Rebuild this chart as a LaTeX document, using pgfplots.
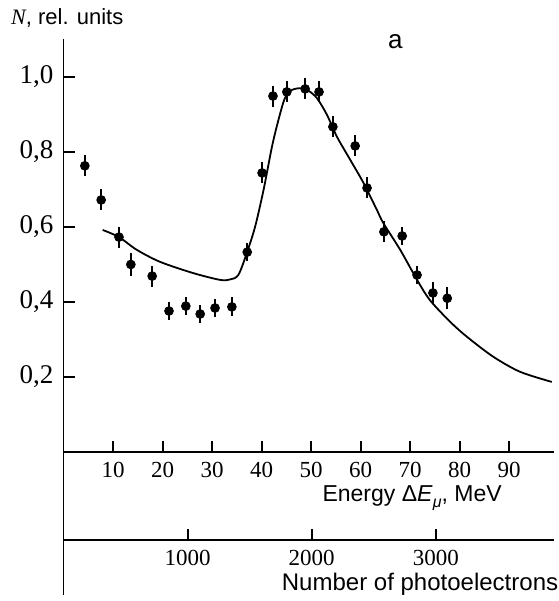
\documentclass[border=0pt]{standalone}
\usepackage{fontspec}
\setmainfont{Liberation Serif}
\newfontfamily\labelfont{Liberation Sans}
\usepackage{pgfplots}
\usepackage{pgfplotstable}
\pgfplotsset{compat=1.18}

% measured points with error bars
\pgfplotstableread{
x     y      e
4.3   0.763  0.028
7.6   0.672  0.028
11.2  0.573  0.028
13.6  0.500  0.030
17.9  0.469  0.028
21.3  0.376  0.025
24.7  0.389  0.025
27.6  0.368  0.025
30.6  0.384  0.025
34.0  0.387  0.025
37.1  0.533  0.025
40.1  0.744  0.028
42.3  0.949  0.028
45.1  0.960  0.028
48.8  0.968  0.028
51.6  0.960  0.028
54.4  0.867  0.028
58.9  0.816  0.028
61.3  0.704  0.028
64.7  0.587  0.028
68.4  0.576  0.025
71.4  0.472  0.025
74.6  0.424  0.028
77.5  0.410  0.030
}\points

% calculated curve
\pgfplotstableread{
x     y
7.9   0.592
11.2  0.573
14.8  0.539
19.5  0.507
26.2  0.477
31.6  0.459
33.6  0.460
35.3  0.472
37.0  0.530
38.7  0.601
40.4  0.699
42.1  0.814
43.4  0.885
44.7  0.943
46.1  0.965
48.1  0.970
49.5  0.963
51.2  0.943
53.2  0.899
55.2  0.841
57.9  0.779
60.6  0.717
63.3  0.645
64.6  0.610
68.0  0.539
71.4  0.459
74.0  0.405
78.1  0.347
81.5  0.307
86.8  0.254
92.2  0.214
98.6  0.187
}\curve

\begin{document}
\begin{tikzpicture}
\begin{axis}[
    name=main,
    scale only axis,
    width=245pt, height=277.5pt,
    xmin=0, xmax=99, ymin=-0.38, ymax=1.1,
    axis x line=middle, axis y line=left,
    axis line style={-, line width=0.9pt},
    xtick={10,20,...,90},
    ytick={0.2,0.4,0.6,0.8,1.0},
    xtick align=inside, ytick align=inside,
    major tick length=5.5pt,
    tick style={black, line width=1pt},
    /pgf/number format/assume math mode=true,
    yticklabel style={font=\fontsize{13.5}{15}\selectfont, xshift=-1.5pt,
        /pgf/number format/.cd, fixed, fixed zerofill, precision=1, use comma},
    xticklabel style={font=\fontsize{11.5}{13}\selectfont},
    xticklabel shift=1.5pt,
    clip=false,
]
\addplot[black, line width=0.9pt, smooth] table {\curve};
\addplot[only marks, mark=*, mark size=2.2pt, black,
    error bars/.cd, y dir=both, y explicit, error mark=none,
    error bar style={line width=0.9pt}]
    table[x=x, y=y, y error=e] {\points};

\node[anchor=west, font=\labelfont\fontsize{11}{13}\selectfont]
    at (axis cs:-12.0,1.157) {{\rmfamily\itshape N}, rel. units};
\node[font=\labelfont\fontsize{13}{15}\selectfont] at (axis cs:67,1.095) {a};
\node[font=\labelfont\fontsize{11.5}{13}\selectfont] at (axis cs:70.4,-0.124)
    {Energy Δ\textit{E}\raisebox{-0.5ex}{\fontsize{8}{9}\selectfont\textit{μ}}, MeV};
\node[font=\labelfont\fontsize{12}{14}\selectfont] at (axis cs:72,-0.352)
    {Number of photoelectrons};

\coordinate (bl) at (axis cs:-12.83,-0.397);
\coordinate (tr) at (axis cs:99.9,1.205);
\end{axis}

\begin{axis}[
    at={(main.south west)}, anchor=south west,
    scale only axis,
    width=245pt, height=277.5pt,
    xmin=0, xmax=3950, ymin=-0.145, ymax=1.335,
    axis x line=middle, axis y line=none,
    axis line style={-, line width=0.9pt},
    xtick={1000,2000,3000}, ytick=\empty,
    xtick align=inside,
    major tick length=5.5pt,
    tick style={black, line width=1pt},
    /pgf/number format/assume math mode=true,
    /pgf/number format/1000 sep={},
    xticklabel style={font=\fontsize{11.5}{13}\selectfont},
    xticklabel shift=1.5pt,
]
\end{axis}
\pgfresetboundingbox
\path[use as bounding box] (bl) rectangle (tr);
\end{tikzpicture}
\end{document}
